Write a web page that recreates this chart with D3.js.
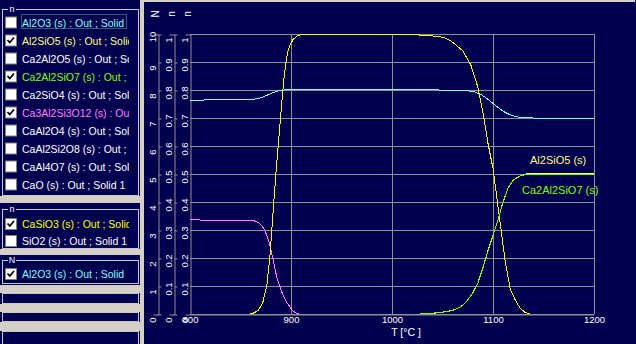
<!DOCTYPE html>
<html lang="en">
<head>
<meta charset="UTF-8">
<title>Phase amounts vs T</title>
<script src="https://cdn.jsdelivr.net/npm/d3@7/dist/d3.min.js"></script>
<style>
  body { margin: 0; background: #00004e; }
  svg { display: block; font-family: "Liberation Sans", Arial, sans-serif; }
</style>
</head>
<body>
<script>
// list entries on the left
var group1 = ["Al2O3 (s) : Out ; Solid", "Al2SiO5 (s) : Out ; Solid", "Ca2Al2O5 (s) : Out ; Solid",
              "Ca2Al2SiO7 (s) : Out ; Solid", "Ca2SiO4 (s) : Out ; Solid", "Ca3Al2Si3O12 (s) : Out ; Solid",
              "CaAl2O4 (s) : Out ; Solid", "CaAl2Si2O8 (s) : Out ; Solid", "CaAl4O7 (s) : Out ; Solid",
              "CaO (s) : Out ; Solid 1"];
var group1Checked = [false, true, false, true, false, true, false, false, false, false];
var group2 = ["CaSiO3 (s) : Out ; Solid", "SiO2 (s) : Out ; Solid 1"];
var group2Checked = [true, false];
var group3 = ["Al2O3 (s) : Out ; Solid"];
var group3Checked = [true];

// axis ticks
var xTicks = [800, 900, 1000, 1100, 1200];
var axisHeads = ["N", "n", "n"];

// Al2O3 (N axis, 0..10)
var tAl2O3 = [800, 850, 862, 868, 873, 878, 883, 888, 893, 898, 1045, 1048, 1075, 1082, 1088, 1094, 1100, 1106, 1112, 1118, 1124, 1130, 1140, 1200];
var nAl2O3 = [7.64, 7.65, 7.66, 7.70, 7.76, 7.84, 7.92, 7.97, 8.0, 8.02, 8.02, 7.98, 7.97, 7.93, 7.84, 7.70, 7.52, 7.35, 7.2, 7.1, 7.04, 7.01, 7.0, 7.0];

// Ca3Al2Si3O12
var tCa3 = [800, 862, 866, 870, 874, 878, 882, 886, 890, 893, 896, 899, 902, 906, 908];
var nCa3 = [0.336, 0.334, 0.33, 0.32, 0.30, 0.26, 0.20, 0.13, 0.086, 0.06, 0.04, 0.025, 0.01, 0.002, 0];

// CaSiO3
var tCaSiO3 = [860, 864, 868, 872, 876, 879, 882, 885, 888, 891, 893, 895, 897, 899, 902, 906, 912, 1025, 1028, 1040, 1048, 1053, 1057, 1062, 1070, 1078, 1085, 1090, 1095, 1100, 1104, 1108, 1112, 1117, 1122, 1127, 1132, 1137];
var nCaSiO3 = [0, 0.005, 0.015, 0.04, 0.1, 0.2, 0.35, 0.5, 0.63, 0.76, 0.84, 0.9, 0.94, 0.96, 0.98, 0.993, 1.0, 1.0, 0.995, 0.993, 0.99, 0.985, 0.978, 0.965, 0.94, 0.89, 0.81, 0.72, 0.61, 0.52, 0.41, 0.3, 0.19, 0.09, 0.05, 0.02, 0.005, 0];

// Ca2Al2SiO7
var tCa2 = [1028, 1040, 1050, 1060, 1065, 1070, 1075, 1080, 1085, 1090, 1095, 1100, 1105, 1110, 1115, 1120, 1127, 1134, 1200];
var nCa2 = [0, 0.003, 0.006, 0.012, 0.02, 0.03, 0.05, 0.075, 0.11, 0.165, 0.225, 0.28, 0.336, 0.4, 0.45, 0.478, 0.493, 0.5, 0.5];

// Al2SiO5
var tAl2SiO5 = [1040, 1050, 1060, 1065, 1070, 1075, 1080, 1085, 1090, 1095, 1100, 1105, 1110, 1115, 1120, 1127, 1134, 1200];
var nAl2SiO5 = [0.002, 0.007, 0.013, 0.02, 0.031, 0.05, 0.076, 0.11, 0.166, 0.226, 0.28, 0.337, 0.401, 0.451, 0.479, 0.494, 0.501, 0.501];

var W = 636, H = 344;
var navy = "#00004e", winGray = "#d4d0c8", grid = "#909090";

var svg = d3.select("body").append("svg").attr("width", W).attr("height", H);
svg.append("rect").attr("width", W).attr("height", H).attr("fill", navy);

// ---------- left panel ----------
var itemColor = {
  "Al2O3": "#80ffff", "Al2SiO5": "#ffff80", "Ca2Al2SiO7": "#80ff00",
  "Ca3Al2Si3O12": "#ff80ff", "CaSiO3": "#ffff00"
};
svg.append("clipPath").attr("id", "listclip")
  .append("rect").attr("x", 0).attr("y", 0).attr("width", 129).attr("height", H);

var panel = svg.append("g");
// gray separators
panel.append("rect").attr("x", 140).attr("y", 0).attr("width", 4).attr("height", H).attr("fill", winGray);
[[196, 7], [249, 6], [285, 8], [304, 8], [322, 9]].forEach(function (b) {
  panel.append("rect").attr("x", 0).attr("y", b[0]).attr("width", 140).attr("height", b[1]).attr("fill", winGray);
});
// frames
[[9.5, 186], [209.5, 39], [260.5, 23], [293.5, 10], [312.5, 9], [331.5, 14]].forEach(function (f) {
  panel.append("rect").attr("x", 2.5).attr("y", f[0]).attr("width", 136).attr("height", f[1])
    .attr("fill", "none").attr("stroke", "#c8c8c8");
});
// group captions
[["n", 10], ["n", 210], ["N", 261]].forEach(function (c) {
  panel.append("rect").attr("x", 8).attr("y", c[1] - 4).attr("width", 8).attr("height", 6).attr("fill", navy);
  panel.append("text").attr("x", 12).attr("y", c[1] + 2).attr("text-anchor", "middle")
    .attr("font-size", 9).attr("fill", "#fff").text(c[0]);
});

function drawList(items, checked, y0, step) {
  items.forEach(function (name, i) {
    var cy = y0 + i * step;
    panel.append("rect").attr("x", 5.5).attr("y", cy - 5.5).attr("width", 11).attr("height", 11)
      .attr("fill", "#fff").attr("stroke", "#808080");
    if (checked[i]) {
      panel.append("path").attr("d", "M7.5," + (cy - 0.5) + "L9.8," + (cy + 2) + "L14," + (cy - 3))
        .attr("fill", "none").attr("stroke", "#000").attr("stroke-width", 1.8);
    }
    var key = name.split(" ")[0];
    panel.append("text").attr("x", 22).attr("y", cy + 4).attr("font-size", 10.5)
      .attr("clip-path", "url(#listclip)")
      .attr("fill", itemColor[key] || "#fff").text(name);
  });
}
drawList(group1, group1Checked, 22.5, 18);
drawList(group2, group2Checked, 224, 17);
drawList(group3, group3Checked, 274, 17);
// focus rectangle on the first entry
panel.append("rect").attr("x", 21.5).attr("y", 14.5).attr("width", 105).attr("height", 14)
  .attr("fill", "none").attr("stroke", "#60c090").attr("stroke-dasharray", "1,1");

// top light edge of chart area
svg.append("rect").attr("x", 144).attr("y", 0).attr("width", 491).attr("height", 2).attr("fill", winGray);

// ---------- chart ----------
var x = d3.scaleLinear().domain([800, 1200]).range([190, 594]);
var yN = d3.scaleLinear().domain([0, 10]).range([314, 34]);
var yn = d3.scaleLinear().domain([0, 1]).range([314, 34]);

// grid
var gGrid = svg.append("g").attr("stroke", grid).attr("shape-rendering", "crispEdges");
gGrid.selectAll(".h").data(yn.ticks(10)).enter().append("line")
  .attr("x1", 190).attr("x2", 594)
  .attr("y1", function (d) { return Math.round(yn(d)) + 0.5; })
  .attr("y2", function (d) { return Math.round(yn(d)) + 0.5; });
gGrid.selectAll(".v").data(xTicks.slice(1)).enter().append("line")
  .attr("y1", 34).attr("y2", 314)
  .attr("x1", function (d) { return Math.round(x(d)) + 0.5; })
  .attr("x2", function (d) { return Math.round(x(d)) + 0.5; });

// three left axes with rotated labels
function leftAxis(scale, xpos, fmt, tickIn, head) {
  var g = svg.append("g").attr("transform", "translate(" + (xpos + 0.5) + ",0.5)")
    .call(d3.axisLeft(scale).ticks(10, fmt).tickSizeOuter(0).tickSize(5));
  g.select(".domain").attr("stroke", grid);
  g.selectAll(".tick line").attr("stroke", grid).attr("x2", tickIn);
  g.selectAll(".tick text")
    .attr("fill", "#fff").attr("font-size", 9.5).attr("x", null).attr("dy", null)
    .attr("text-anchor", "middle")
    .attr("transform", function () {
      var s = d3.select(this).text();
      return "translate(-3," + (s.length === 1 ? 5 : 2) + ") rotate(-90)";
    });
  g.attr("font-family", null);
  svg.append("text").attr("transform", "translate(" + (xpos + 0.5) + ",14) rotate(-90)")
    .attr("text-anchor", "middle").attr("font-size", 10).attr("fill", "#fff").text(head);
}
leftAxis(yN, 158, "d", 3, axisHeads[0]);
leftAxis(yn, 174, "~g", 3, axisHeads[1]);
leftAxis(yn, 190, "~g", 0, axisHeads[2]);

// bottom axis
var gx = svg.append("g").attr("transform", "translate(0,314.5)")
  .call(d3.axisBottom(x).tickValues(xTicks).tickSize(0).tickPadding(2).tickFormat(d3.format("d")));
gx.attr("font-family", null);
gx.select(".domain").attr("stroke", grid);
gx.selectAll(".tick text").attr("fill", "#fff").attr("font-size", 9.5);
svg.append("text").attr("x", 406).attr("y", 336).attr("text-anchor", "middle")
  .attr("font-size", 10.5).attr("fill", "#fff").text("T [°C ]");

// curves
function curve(ts, vs, scale, color) {
  var pts = ts.map(function (t, i) { return [t, vs[i]]; });
  svg.append("path").datum(pts)
    .attr("d", d3.line().x(function (d) { return x(d[0]); }).y(function (d) { return scale(d[1]); }))
    .attr("fill", "none").attr("stroke", color).attr("stroke-width", 1)
    .attr("shape-rendering", "crispEdges");
}
curve(tAl2O3, nAl2O3, yN, "#80ffff");
curve(tCa3, nCa3, yn, "#ff80ff");
curve(tCaSiO3, nCaSiO3, yn, "#ffff00");
curve(tAl2SiO5, nAl2SiO5, yn, "#ffff80");
curve(tCa2, nCa2, yn, "#80ff00");

// curve labels
svg.append("text").attr("x", 530).attr("y", 164).attr("font-size", 11).attr("fill", "#ffff80").text("Al2SiO5 (s)");
svg.append("text").attr("x", 522).attr("y", 194).attr("font-size", 11).attr("fill", "#80ff00").text("Ca2Al2SiO7 (s)");
</script>
</body>
</html>
